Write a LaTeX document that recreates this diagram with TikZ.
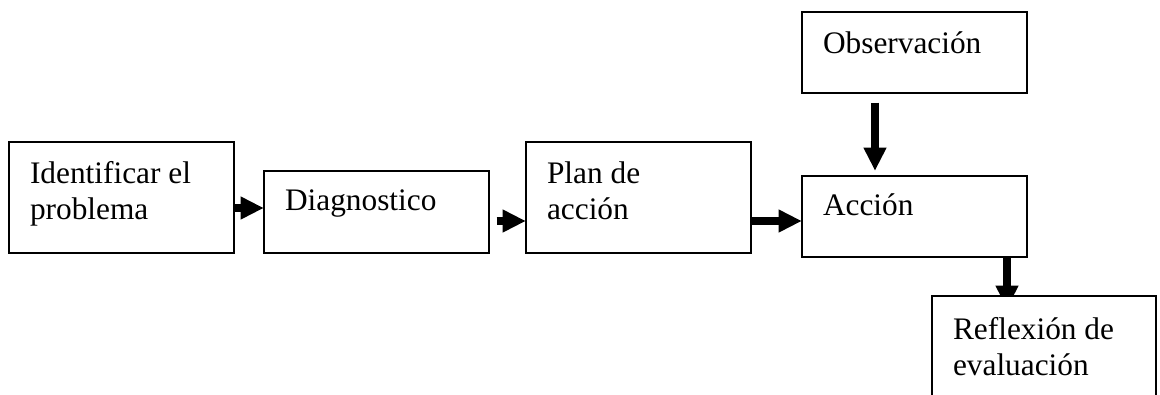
\documentclass[tikz,border=0pt]{standalone}
\usepackage{fontspec}
\setmainfont{Liberation Serif}
\usepackage{tikz}
\tikzset{>=latex}
\usetikzlibrary{arrows.meta,positioning,backgrounds}
\tikzset{
  caja/.style={draw=black, line width=1.1pt, fill=white, minimum width=168.75pt, inner sep=0pt},
  texto/.style={anchor=north west, align=left, inner sep=0pt, font=\fontsize{23.5}{27}\selectfont},
  flecha/.style={line width=5.6pt, -{Triangle[length=17pt,width=17.5pt,line width=0pt]}}
}

\begin{document}
\begin{tikzpicture}[x=0.75pt,y=-0.75pt]
                \useasboundingbox (0,0) rectangle (1160,394);
                \clip (0,0) rectangle (1160,394);

                \node[caja, minimum height=83.25pt] (ident) at (121.5,197.5) {};
                \node[texto] (ident-t) at ([shift={(21.5,20)}]ident.north west) {Identificar el\\problema};

                \node[caja, minimum height=61.5pt] (diag) at (376.5,212) {};
                \node[texto] (diag-t) at ([shift={(21.5,19.5)}]diag.north west) {Diagnostico};

                \node[caja, minimum height=83.25pt] (plan) at (638.5,197.5) {};
                \node[texto] (plan-t) at ([shift={(21.5,20)}]plan.north west) {Plan de\\acción};

                \node[caja, minimum height=60.75pt] (accion) at (914.5,216.5) {};
                \node[texto] (accion-t) at ([shift={(21.5,18.5)}]accion.north west) {Acción};

                \node[caja, minimum height=60.75pt] (obs) at (914.5,52.5) {};
                \node[texto] (obs-t) at ([shift={(21.5,20)}]obs.north west) {Observación};

                \node[caja, minimum width=168pt, minimum height=83.25pt] (reflex) at (1044,351.5) {};
                \node[texto] (reflex-t) at ([shift={(21.5,22)}]reflex.north west) {Reflexión de\\evaluación};

                \begin{scope}[on background layer]
                \draw[flecha] ([shift={(0,10.5)}]ident.east) -- ([shift={(0,-4)}]diag.west);
                \draw[flecha] ([shift={(7,9)}]diag.east) -- ([shift={(0,23.5)}]plan.west);
                \draw[flecha] ([shift={(0,23.5)}]plan.east) -- ([shift={(0,4.5)}]accion.west);
                \draw[flecha] ([shift={(-39.5,9)}]obs.south) -- ([shift={(-39.5,-5)}]accion.north);
                \draw[flecha] ([shift={(92.5,0)}]accion.south) -- ([shift={(-37,13)}]reflex.north);
                \end{scope}
\end{tikzpicture}
\end{document}
